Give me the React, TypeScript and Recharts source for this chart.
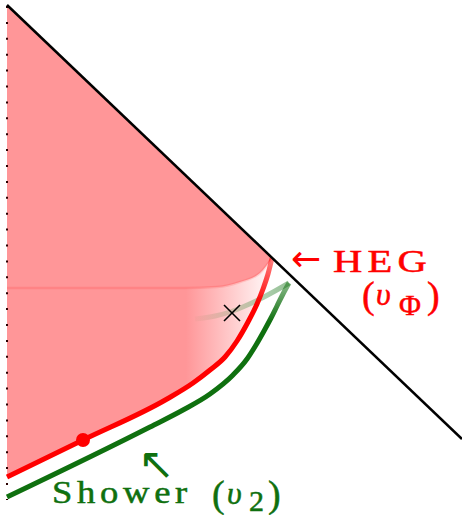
import React from 'react';
import { ComposedChart, XAxis, YAxis, Area, Line, Scatter } from 'recharts';

const W = 462;
const H = 515;

// data space: x = position, t = time (up)
const lightConeEdge = [
  { x: 7, t: 510 },
  { x: 462, t: 76 },
];
const coneFillTop = [
  { x: 7, t: 510 },
  { x: 272, t: 257 },
];
const plateauEdge = [
  { x: 7, t: 227 },
  { x: 183, t: 227 },
  { x: 217, t: 228 },
  { x: 240, t: 233 },
  { x: 260, t: 242 },
  { x: 272, t: 257 },
];
const hegCurve = [
  { x: 7, t: 38 },
  { x: 83, t: 75 },
  { x: 167, t: 116 },
  { x: 193, t: 132 },
  { x: 210, t: 145 },
  { x: 225, t: 158 },
  { x: 237, t: 174 },
  { x: 248, t: 193 },
  { x: 257, t: 211 },
  { x: 263, t: 226 },
  { x: 268, t: 241 },
  { x: 272, t: 257 },
];
const showerCurve = [
  { x: 7, t: 18 },
  { x: 150, t: 88 },
  { x: 183, t: 105 },
  { x: 210, t: 121 },
  { x: 233, t: 140 },
  { x: 247, t: 156 },
  { x: 256, t: 170 },
  { x: 264, t: 184 },
  { x: 271, t: 197 },
  { x: 277, t: 209 },
  { x: 283, t: 221 },
  { x: 289, t: 232 },
];
const showerGhost = [
  { x: 195, t: 196 },
  { x: 215, t: 199 },
  { x: 230, t: 203 },
  { x: 245, t: 209 },
  { x: 260, t: 216 },
  { x: 275, t: 224 },
  { x: 289, t: 232 },
];
const originAxis = [
  { x: 7, t: 509 },
  { x: 7, t: 15 },
];
const markedPoint = [{ x: 83, t: 75 }];
const crossPoint = [{ x: 232, t: 202 }];
const labelAnchors = [
  { x: 292, t: 243, id: 'heg' },
  { x: 52, t: 12, id: 'shower' },
];

const RED = '#ff0000';
const PINK = '#ff9698';
const GREEN = '#0f700f';
const SERIF = "'Liberation Serif', serif";
const ARROWS = "'DejaVu Sans', sans-serif";

const Dot = (p: any) => <circle cx={p.cx} cy={p.cy} r={7} fill={RED} />;
const Cross = (p: any) => (
  <g stroke="#000" strokeWidth={1.6}>
    <line x1={p.cx - 8} y1={p.cy - 8} x2={p.cx + 8} y2={p.cy + 8} />
    <line x1={p.cx - 8} y1={p.cy + 8} x2={p.cx + 8} y2={p.cy - 8} />
  </g>
);

const T = (props: any) => {
  const { family, children, ...rest } = props;
  return (
    <text {...rest} style={{ fontFamily: family || SERIF }}>
      {children}
    </text>
  );
};

const LabelShape = (p: any) => {
  const { cx, cy, payload } = p;
  if (payload.id === 'heg') {
    return (
      <g fill={RED} stroke={RED} strokeWidth={0.5}>
        <T x={cx - 1} y={cy - 1} fontSize={36} family={ARROWS} strokeWidth={0}>←</T>
        <T x={cx + 41} y={cy} fontSize={31} letterSpacing={4} textLength={99} lengthAdjust="spacingAndGlyphs">HEG</T>
        <T x={cx + 70} y={cy + 36} fontSize={38}>(</T>
        <T x={cx + 84} y={cy + 33} fontSize={32} fontStyle="italic">υ</T>
        <T x={cx + 107} y={cy + 43} fontSize={30}>Φ</T>
        <T x={cx + 135} y={cy + 36} fontSize={38}>)</T>
      </g>
    );
  }
  return (
    <g fill={GREEN} stroke={GREEN} strokeWidth={0.5}>
      <T x={cx + 86} y={cy - 24} fontSize={44} family={ARROWS} strokeWidth={0}>↖</T>
      <T x={cx} y={cy} fontSize={31} letterSpacing={4} textLength={140} lengthAdjust="spacingAndGlyphs">Shower</T>
      <T x={cx + 160} y={cy + 4} fontSize={38}>(</T>
      <T x={cx + 175} y={cy + 1} fontSize={32} fontStyle="italic">υ</T>
      <T x={cx + 197} y={cy + 8} fontSize={30}>2</T>
      <T x={cx + 216} y={cy + 4} fontSize={38}>)</T>
    </g>
  );
};

export default function App() {
  return (
    <div style={{ position: 'absolute', left: 0, top: 0, width: W, height: H, background: '#fff' }}>
      <ComposedChart width={W} height={H} margin={{ top: 0, right: 0, bottom: 0, left: 0 }}>
        <defs>
          <linearGradient id="fadeFill" gradientUnits="userSpaceOnUse" x1={186} y1={0} x2={268} y2={0}>
            <stop offset="0" stopColor={PINK} />
            <stop offset="1" stopColor="#fff6f6" />
          </linearGradient>
          <linearGradient id="redStroke" gradientUnits="userSpaceOnUse" x1={0} y1={256} x2={0} y2={305}>
            <stop offset="0" stopColor={RED} stopOpacity={0.45} />
            <stop offset="1" stopColor={RED} stopOpacity={1} />
          </linearGradient>
          <linearGradient id="greenStroke" gradientUnits="userSpaceOnUse" x1={0} y1={280} x2={0} y2={322}>
            <stop offset="0" stopColor={GREEN} stopOpacity={0.45} />
            <stop offset="1" stopColor={GREEN} stopOpacity={1} />
          </linearGradient>
          <linearGradient id="ghostStroke" gradientUnits="userSpaceOnUse" x1={289} y1={0} x2={190} y2={0}>
            <stop offset="0" stopColor={GREEN} stopOpacity={0.45} />
            <stop offset="1" stopColor={GREEN} stopOpacity={0} />
          </linearGradient>
        </defs>
        <XAxis type="number" dataKey="x" domain={[0, W]} hide />
        <YAxis type="number" dataKey="t" domain={[0, H]} hide />
        <Area data={coneFillTop} dataKey="t" type="linear" stroke="none" fill={PINK} fillOpacity={1} dot={false} activeDot={false} isAnimationActive={false} />
        <Area data={plateauEdge} dataKey="t" type="monotone" stroke="none" fill="url(#fadeFill)" fillOpacity={1} dot={false} activeDot={false} isAnimationActive={false} />
        <Area data={hegCurve} dataKey="t" type="monotone" stroke="none" fill="#ffffff" fillOpacity={1} dot={false} activeDot={false} isAnimationActive={false} />
        <Line data={plateauEdge} dataKey="t" type="monotone" stroke={RED} strokeOpacity={0.12} strokeWidth={2.5} dot={false} activeDot={false} isAnimationActive={false} />
        <Line data={originAxis} dataKey="t" type="linear" stroke="#2a0000" strokeWidth={2} strokeDasharray="2 13.9" dot={false} activeDot={false} isAnimationActive={false} />
        <Line data={showerGhost} dataKey="t" type="monotone" stroke="url(#ghostStroke)" strokeWidth={5} dot={false} activeDot={false} isAnimationActive={false} />
        <Line data={showerCurve} dataKey="t" type="monotone" stroke="url(#greenStroke)" strokeWidth={5} dot={false} activeDot={false} isAnimationActive={false} />
        <Line data={hegCurve} dataKey="t" type="monotone" stroke="url(#redStroke)" strokeWidth={5} dot={false} activeDot={false} isAnimationActive={false} />
        <Line data={lightConeEdge} dataKey="t" type="linear" stroke="#000" strokeWidth={2.5} dot={false} activeDot={false} isAnimationActive={false} />
        <Scatter data={markedPoint} dataKey="t" shape={Dot} isAnimationActive={false} />
        <Scatter data={crossPoint} dataKey="t" shape={Cross} isAnimationActive={false} />
        <Scatter data={labelAnchors} dataKey="t" shape={LabelShape} isAnimationActive={false} />
      </ComposedChart>
    </div>
  );
}
